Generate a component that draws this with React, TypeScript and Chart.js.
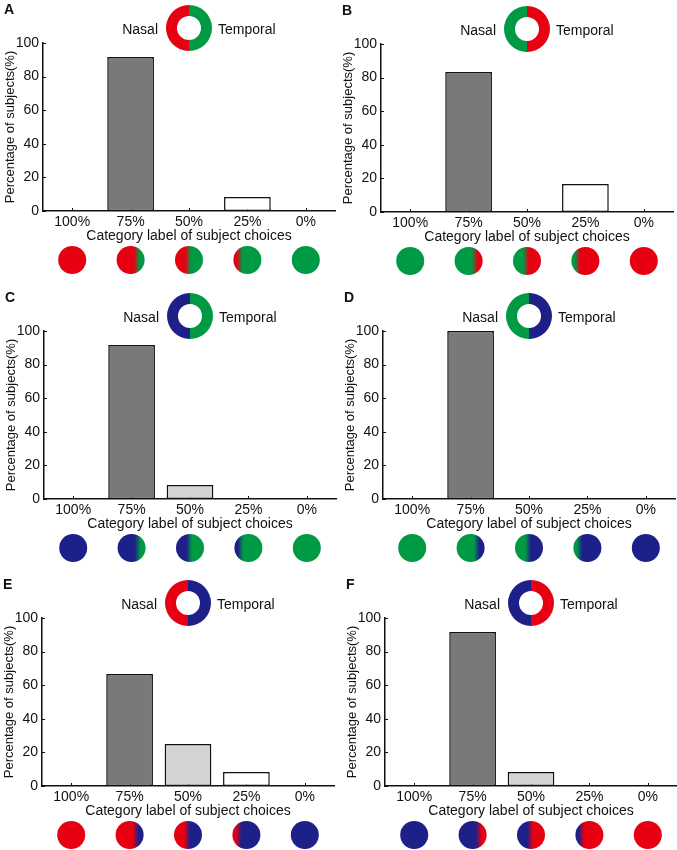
import { useEffect, useRef } from "react";
import { Chart, registerables, Plugin } from "chart.js";

Chart.register(...registerables);

// category axis (share of the nasal colour in the test disc)
const categories = ["100%", "75%", "50%", "25%", "0%"];
const nasalShare = [1, 0.75, 0.5, 0.25, 0];
const barColors = ["#ffffff", "#797979", "#d3d3d3", "#ffffff", "#ffffff"];
const yTicks = [0, 20, 40, 60, 80, 100];

// percentage of subjects per panel
const valuesA = [0, 91.7, 0, 8.3, 0];
const valuesB = [0, 83.3, 0, 16.7, 0];
const valuesC = [0, 91.7, 8.3, 0, 0];
const valuesD = [0, 100, 0, 0, 0];
const valuesE = [0, 66.7, 25, 8.3, 0];
const valuesF = [0, 91.7, 8.3, 0, 0];

const RED = "#e60012";
const GREEN = "#009944";
const BLUE = "#1d2088";
const INK = "#111111";
const FONT = "Arial, 'Liberation Sans', sans-serif";

const W = 337;

interface PanelProps {
  letter: string;
  values: number[];
  nasal: string;
  temporal: string;
  x: number;
  y: number;
  h: number;
}

function Panel({ letter, values, nasal, temporal, x, y, h }: PanelProps) {
  const canvasRef = useRef<HTMLCanvasElement | null>(null);

  useEffect(() => {
    if (!canvasRef.current) return;

    const deco: Plugin<"bar"> = {
      id: "deco",
      beforeDatasetsDraw(chart) {
        // small inward ticks on both axes
        const { ctx, chartArea, scales } = chart;
        const xs = scales.x;
        const ys = scales.y;
        ctx.save();
        ctx.strokeStyle = INK;
        ctx.lineWidth = 1;
        ctx.beginPath();
        categories.forEach((_, i) => {
          const px = Math.round(xs.getPixelForValue(i)) + 0.5;
          ctx.moveTo(px, chartArea.bottom);
          ctx.lineTo(px, chartArea.bottom - 3);
        });
        yTicks.forEach((v) => {
          const py = Math.round(ys.getPixelForValue(v)) + 0.5;
          ctx.moveTo(chartArea.left, py);
          ctx.lineTo(chartArea.left + 3, py);
        });
        ctx.stroke();
        ctx.restore();
      },
      afterDraw(chart) {
        const { ctx, chartArea } = chart;
        const xs = chart.scales.x;
        ctx.save();

        // panel letter
        ctx.fillStyle = INK;
        ctx.font = `bold 14px ${FONT}`;
        ctx.textAlign = "left";
        ctx.textBaseline = "alphabetic";
        ctx.fillText(letter, 4, 13.5);

        // nasal / temporal ring
        const cx = (chartArea.left + chartArea.right) / 2;
        const cy = chartArea.top - 15;
        const ro = 23;
        const ri = 12;
        ctx.beginPath();
        ctx.arc(cx, cy, ro, Math.PI / 2, Math.PI * 1.5);
        ctx.arc(cx, cy, ri, Math.PI * 1.5, Math.PI / 2, true);
        ctx.closePath();
        ctx.fillStyle = nasal;
        ctx.fill();
        ctx.beginPath();
        ctx.arc(cx, cy, ro, -Math.PI / 2, Math.PI / 2);
        ctx.arc(cx, cy, ri, Math.PI / 2, -Math.PI / 2, true);
        ctx.closePath();
        ctx.fillStyle = temporal;
        ctx.fill();

        ctx.fillStyle = INK;
        ctx.font = `14px ${FONT}`;
        ctx.textAlign = "right";
        ctx.fillText("Nasal", cx - ro - 8, cy + 6);
        ctx.textAlign = "left";
        ctx.fillText("Temporal", cx + ro + 6, cy + 6);

        // test discs under each category
        const r = 14;
        const cyDisc = chartArea.bottom + 49;
        nasalShare.forEach((share, i) => {
          const px = xs.getPixelForValue(i);
          let fill: string | CanvasGradient;
          if (share >= 1) fill = nasal;
          else if (share <= 0) fill = temporal;
          else {
            const g = ctx.createLinearGradient(px - r, 0, px + r, 0);
            g.addColorStop(0, nasal);
            g.addColorStop(Math.max(0, share - 0.13), nasal);
            g.addColorStop(Math.min(1, share + 0.07), temporal);
            g.addColorStop(1, temporal);
            fill = g;
          }
          ctx.beginPath();
          ctx.arc(px, cyDisc, r, 0, Math.PI * 2);
          ctx.fillStyle = fill;
          ctx.fill();
        });

        ctx.restore();
      },
    };

    const chart = new Chart(canvasRef.current, {
      type: "bar",
      data: {
        labels: categories,
        datasets: [
          {
            data: values,
            backgroundColor: barColors,
            borderColor: INK,
            borderWidth: 1.5,
            borderSkipped: false,
            inflateAmount: 0,
            categoryPercentage: 1,
            barPercentage: 0.8,
          },
        ],
      },
      options: {
        responsive: false,
        animation: false,
        events: [],
        layout: { padding: { top: 43, right: 2, bottom: h - 211 - 34, left: 0 } },
        plugins: {
          legend: { display: false },
          tooltip: { enabled: false },
        },
        scales: {
          x: {
            grid: { display: false, drawTicks: false },
            border: { display: true, color: INK, width: 1.5 },
            ticks: { color: INK, font: { family: FONT, size: 14 }, padding: 3, maxRotation: 0 },
            title: {
              display: true,
              text: "Category label of subject choices",
              color: INK,
              font: { family: FONT, size: 14 },
              padding: { top: 0, bottom: 0 },
            },
            afterFit: (s) => {
              s.height = 34;
            },
          },
          y: {
            min: 0,
            max: 100,
            grid: { display: false, drawTicks: false },
            border: { display: true, color: INK, width: 1.5 },
            ticks: { color: INK, font: { family: FONT, size: 14 }, padding: 4 },
            afterBuildTicks: (s) => {
              s.ticks = yTicks.map((v) => ({ value: v }));
            },
            title: {
              display: true,
              text: "Percentage of subjects(%)",
              color: INK,
              font: { family: FONT, size: 13 },
              padding: { top: 3, bottom: 0 },
            },
            afterFit: (s) => {
              s.width = 43;
            },
          },
        },
      },
      plugins: [deco],
    });

    return () => chart.destroy();
  }, [letter, values, nasal, temporal, h]);

  return (
    <canvas
      ref={canvasRef}
      width={W}
      height={h}
      style={{ position: "absolute", left: x, top: y, width: W, height: h }}
    />
  );
}

export default function App() {
  return (
    <div
      style={{
        position: "absolute",
        left: 0,
        top: 0,
        width: 677,
        height: 850,
        overflow: "hidden",
        background: "#ffffff",
      }}
    >
      <Panel letter="A" values={valuesA} nasal={RED} temporal={GREEN} x={0} y={0} h={288} />
      <Panel letter="B" values={valuesB} nasal={GREEN} temporal={RED} x={338} y={1} h={287} />
      <Panel letter="C" values={valuesC} nasal={BLUE} temporal={GREEN} x={1} y={288} h={287} />
      <Panel letter="D" values={valuesD} nasal={GREEN} temporal={BLUE} x={340} y={288} h={287} />
      <Panel letter="E" values={valuesE} nasal={RED} temporal={BLUE} x={-1} y={575} h={275} />
      <Panel letter="F" values={valuesF} nasal={BLUE} temporal={RED} x={342} y={575} h={275} />
    </div>
  );
}
